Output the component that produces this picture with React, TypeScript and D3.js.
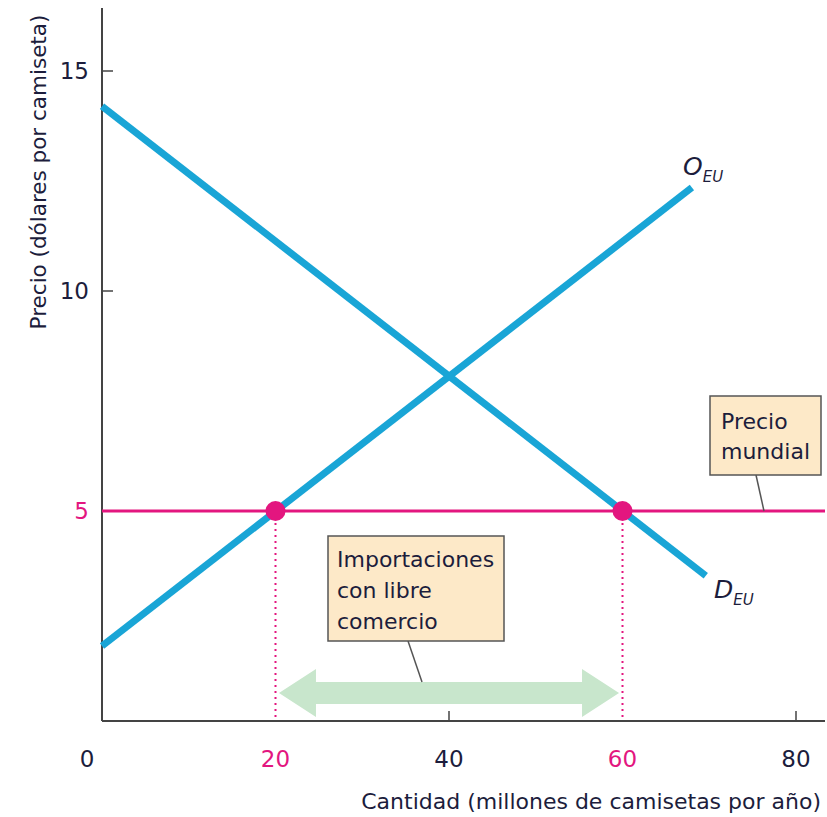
import React from "react";
import * as d3 from "d3";

// Quantity (millions of T-shirts per year) and price (dollars per T-shirt)
const supplyUS: [number, number][] = [[0, 1.93], [68, 12.35]];
const demandUS: [number, number][] = [[0, 14.2], [69.6, 3.53]];
const worldPrice = 5;
const tradePoints: [number, number][] = [[20, 5], [60, 5]];
const importsRange: [number, number] = [20.4, 59.6];

const xTicks = [0, 20, 40, 60, 80];
const yTicks = [5, 10, 15];
const highlightX = [20, 60];
const highlightY = [5];

const W = 827;
const H = 817;
const FONT = "'DejaVu Sans', Lato, sans-serif";
const BLUE = "#19a5d6";
const PINK = "#e3167f";
const INK = "#1c1d3c";
const BOX_FILL = "#fde9c8";

export default function App() {
  const x = d3.scaleLinear().domain([0, 80]).range([102, 796]);
  const y = d3.scaleLinear().domain([5, 10]).range([511, 291]);
  const axisY = 721;
  const axisTop = 8;
  const axisRight = 825;

  const line = d3
    .line<[number, number]>()
    .x((d) => x(d[0]))
    .y((d) => y(d[1]));

  // double-headed arrow for the imports
  const ax0 = x(importsRange[0]);
  const ax1 = x(importsRange[1]);
  const acy = 693;
  const shaft = 11;
  const head = 24;
  const headLen = 37;
  const arrow = d3.path();
  arrow.moveTo(ax0, acy);
  arrow.lineTo(ax0 + headLen, acy - head);
  arrow.lineTo(ax0 + headLen, acy - shaft);
  arrow.lineTo(ax1 - headLen, acy - shaft);
  arrow.lineTo(ax1 - headLen, acy - head);
  arrow.lineTo(ax1, acy);
  arrow.lineTo(ax1 - headLen, acy + head);
  arrow.lineTo(ax1 - headLen, acy + shaft);
  arrow.lineTo(ax0 + headLen, acy + shaft);
  arrow.lineTo(ax0 + headLen, acy + head);
  arrow.closePath();

  const tickColor = (v: number, hl: number[]) => (hl.includes(v) ? PINK : INK);

  return (
    <svg
      width={W}
      height={H}
      style={{ position: "absolute", left: 0, top: 0, background: "#fff" }}
      fontFamily={FONT}
    >
      {/* axes */}
      <line x1={x(0)} y1={axisTop} x2={x(0)} y2={axisY} stroke="#444" strokeWidth={2} />
      <line x1={x(0)} y1={axisY} x2={axisRight} y2={axisY} stroke="#444" strokeWidth={2} />

      {yTicks
        .filter((v) => !highlightY.includes(v))
        .map((v) => (
          <line key={"yt" + v} x1={x(0)} x2={x(0) + 11} y1={y(v)} y2={y(v)} stroke="#444" strokeWidth={1.5} />
        ))}
      {xTicks
        .filter((v) => v !== 0 && !highlightX.includes(v))
        .map((v) => (
          <line key={"xt" + v} x1={x(v)} x2={x(v)} y1={axisY} y2={axisY - 10} stroke="#444" strokeWidth={1.5} />
        ))}

      {yTicks.map((v) => (
        <text
          key={"yl" + v}
          x={89}
          y={y(v)}
          dy="0.36em"
          textAnchor="end"
          fontSize={23}
          fill={tickColor(v, highlightY)}
        >
          {v}
        </text>
      ))}
      {xTicks.map((v) => (
        <text
          key={"xl" + v}
          x={v === 0 ? 87 : x(v)}
          y={767}
          textAnchor="middle"
          fontSize={23}
          fill={tickColor(v, highlightX)}
        >
          {v}
        </text>
      ))}

      {/* axis titles */}
      <text
        transform={`translate(46,172) rotate(-90)`}
        textAnchor="middle"
        fontSize={21.5}
        fill={INK}
      >
        Precio (dólares por camiseta)
      </text>
      <text x={821} y={809} textAnchor="end" fontSize={22} fill={INK}>
        Cantidad (millones de camisetas por año)
      </text>

      {/* imports arrow */}
      <path d={arrow.toString()} fill="#c8e6cc" />

      {/* dotted drop lines */}
      {tradePoints.map(([q, p]) => (
        <line
          key={"dl" + q}
          x1={x(q)}
          x2={x(q)}
          y1={y(p)}
          y2={axisY}
          stroke={PINK}
          strokeWidth={2}
          strokeDasharray="2 4"
        />
      ))}

      {/* world price */}
      <line x1={x(0)} x2={axisRight} y1={y(worldPrice)} y2={y(worldPrice)} stroke={PINK} strokeWidth={3} />

      {/* supply and demand */}
      <path d={line(supplyUS) ?? ""} fill="none" stroke={BLUE} strokeWidth={7} />
      <path d={line(demandUS) ?? ""} fill="none" stroke={BLUE} strokeWidth={7} />

      {tradePoints.map(([q, p]) => (
        <circle key={"pt" + q} cx={x(q)} cy={y(p)} r={10} fill={PINK} />
      ))}

      {/* curve labels */}
      <text x={683} y={175} fontSize={25} fontStyle="italic" fill={INK}>
        O
        <tspan fontSize={15} dy={7}>EU</tspan>
      </text>
      <text x={714} y={598} fontSize={25} fontStyle="italic" fill={INK}>
        D
        <tspan fontSize={15} dy={7}>EU</tspan>
      </text>

      {/* callout: world price */}
      <line x1={756} y1={475} x2={764} y2={y(worldPrice)} stroke="#555" strokeWidth={1.5} />
      <rect x={710} y={396} width={111} height={79} fill={BOX_FILL} stroke="#555" strokeWidth={1.5} />
      <text x={721} y={429} fontSize={22} fill={INK}>Precio</text>
      <text x={721} y={459} fontSize={22} fill={INK}>mundial</text>

      {/* callout: imports */}
      <line x1={408} y1={641} x2={422} y2={acy - shaft} stroke="#555" strokeWidth={1.5} />
      <rect x={328} y={536} width={176} height={105} fill={BOX_FILL} stroke="#555" strokeWidth={1.5} />
      <text x={337} y={567} fontSize={22} fill={INK}>Importaciones</text>
      <text x={337} y={598} fontSize={22} fill={INK}>con libre</text>
      <text x={337} y={629} fontSize={22} fill={INK}>comercio</text>
    </svg>
  );
}
